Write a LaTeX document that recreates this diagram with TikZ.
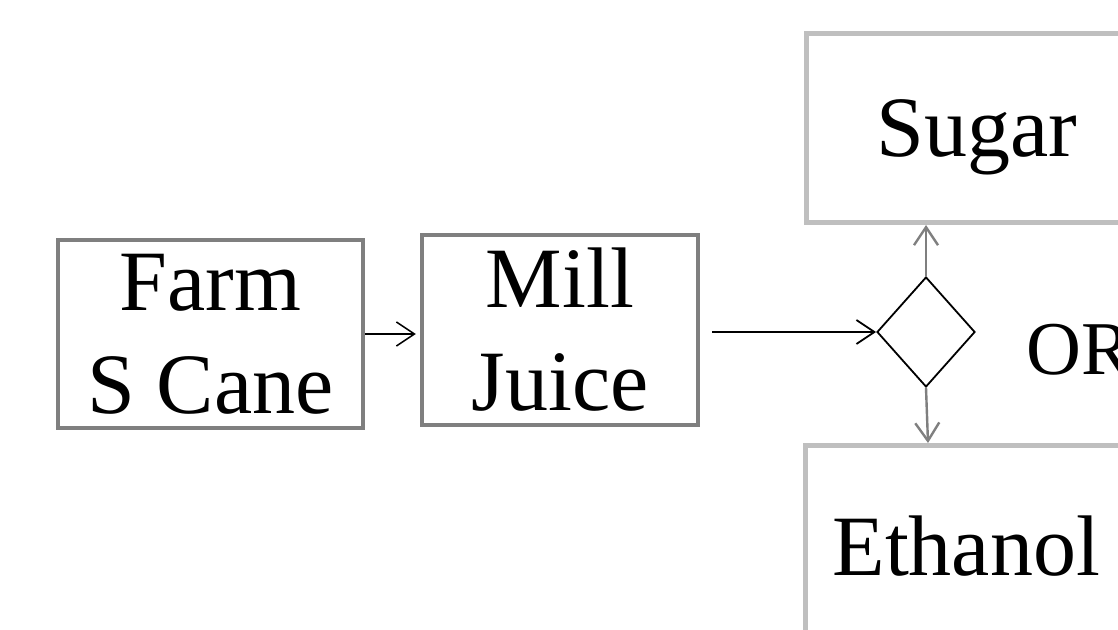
\documentclass[tikz,border=0pt]{standalone}
\usepackage{fontspec}
\setmainfont{Liberation Serif}
\usetikzlibrary{arrows.meta,shapes.geometric,calc}
\definecolor{boxgray}{HTML}{7F7F7F}
\definecolor{lightbox}{HTML}{BFBFBF}
\begin{document}
\begin{tikzpicture}[x=1pt,y=1pt,
  bigtext/.style={font=\fontsize{86}{103}\selectfont},
  darkbox/.style={draw=boxgray,line width=4.5pt,rectangle,inner sep=0pt,align=center,bigtext},
  lightboxstyle/.style={draw=lightbox,line width=5pt,rectangle,inner sep=0pt,bigtext,text depth=0pt,align=left},
  barb/.style={-{Straight Barb[length=18pt,width=24pt]}},
  flow/.style={barb,line width=1.8pt,black},
  grayflow/.style={barb,line width=2.4pt,boxgray}]
\useasboundingbox (0,0) rectangle (1118,629);
\clip (0,0) rectangle (1118,629);
\fill[white] (0,0) rectangle (1118,629);
% Farm box: 56..365 x 236..428
\node[darkbox,minimum width=305,minimum height=188] (farm) at (210.5,295) {Farm\\S Cane};
% Mill box: 420..700 x 233..427
\node[darkbox,minimum width=276,minimum height=190] (mill) at (560,299) {Mill\\Juice};
% decision diamond
\node[draw=black,line width=1.8pt,diamond,minimum width=98,minimum height=110,inner sep=0pt] (dia) at (926,297) {};
% Sugar box
\node[lightboxstyle,anchor=north west,inner xsep=70pt,text width=220pt,minimum height=189] (sugar) at (804,598) {Sugar};
% Ethanol box
\node[lightboxstyle,anchor=north west,inner xsep=27pt,text width=290pt,minimum height=200] (eth) at (803,186) {Ethanol};
% OR
\node[font=\fontsize{76}{90}\selectfont,anchor=base west,inner sep=0pt] (or) at (1026,254) {OR};
% connectors
\draw[flow,line width=1.5pt,shorten >=4pt] (farm.east) -- (farm.east -| mill.west);
\draw[flow,shorten <=12pt] (mill.east |- dia.west) -- (dia.west);
\draw[grayflow] (dia.north) -- (dia.north |- sugar.south);
\coordinate (ethin) at ($(dia.south |- eth.north)+(2,0)$);
\draw[grayflow] (dia.south) -- (ethin);
\end{tikzpicture}
\end{document}
